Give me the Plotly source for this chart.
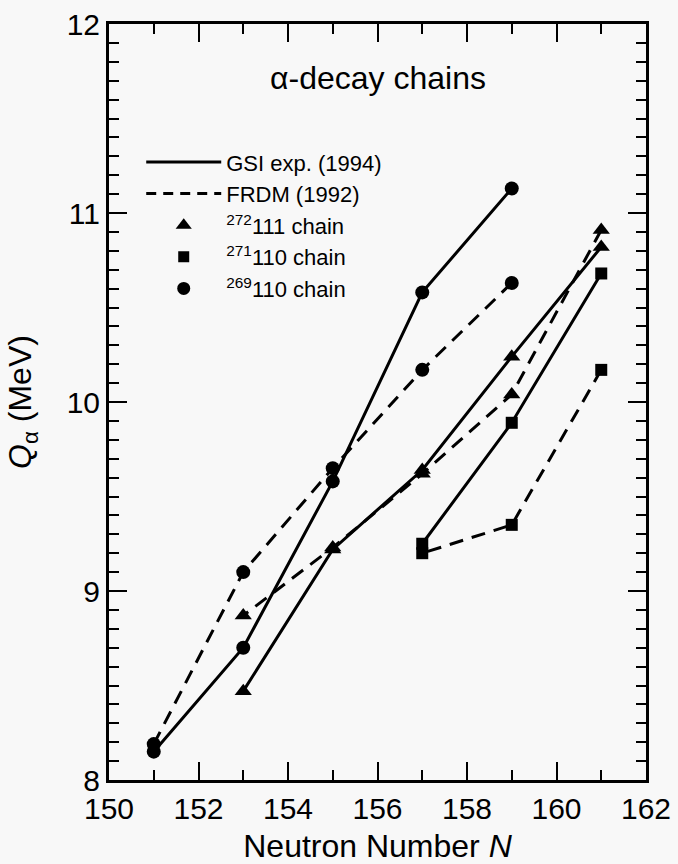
import plotly.graph_objects as go

# ---- data ----
n_272 = [161, 159, 157, 155, 153]
gsi_272 = [10.82, 10.24, 9.64, 9.22, 8.47]
frdm_272 = [10.91, 10.04, 9.62, 9.23, 8.87]

n_271 = [161, 159, 157]
gsi_271 = [10.68, 9.89, 9.25]
frdm_271 = [10.17, 9.35, 9.20]

n_269 = [159, 157, 155, 153, 151]
gsi_269 = [11.13, 10.58, 9.58, 8.70, 8.15]
frdm_269 = [10.63, 10.17, 9.65, 9.10, 8.19]

x_ticks = [150, 152, 154, 156, 158, 160, 162]
y_ticks = [8, 9, 10, 11, 12]

FONT = "Liberation Sans, Arial, Helvetica, sans-serif"
BG = "#f8f8f8"
DASH = "14px,9px"
LW = 3

fig = go.Figure()

chains = [
    (n_272, gsi_272, frdm_272, "triangle-up", 15),
    (n_271, gsi_271, frdm_271, "square", 12),
    (n_269, gsi_269, frdm_269, "circle", 14),
]
for n, g, f, sym, sz in chains:
    fig.add_trace(go.Scatter(x=n, y=g, mode="lines+markers", showlegend=False,
                             line=dict(color="black", width=LW),
                             marker=dict(symbol=sym, size=sz, color="black")))
    fig.add_trace(go.Scatter(x=n, y=f, mode="lines+markers", showlegend=False,
                             line=dict(color="black", width=LW, dash=DASH),
                             marker=dict(symbol=sym, size=sz, color="black")))

# legend entries
fig.add_trace(go.Scatter(x=[None], y=[None], mode="lines", name="GSI exp. (1994)",
                         line=dict(color="black", width=LW)))
fig.add_trace(go.Scatter(x=[None], y=[None], mode="lines", name="FRDM (1992)",
                         line=dict(color="black", width=LW, dash="10px,7px")))
fig.add_trace(go.Scatter(x=[None], y=[None], mode="markers", name="<sup>272</sup>111 chain",
                         marker=dict(symbol="triangle-up", size=14, color="black")))
fig.add_trace(go.Scatter(x=[None], y=[None], mode="markers", name="<sup>271</sup>110 chain",
                         marker=dict(symbol="square", size=11, color="black")))
fig.add_trace(go.Scatter(x=[None], y=[None], mode="markers", name="<sup>269</sup>110 chain",
                         marker=dict(symbol="circle", size=13, color="black")))

axis_common = dict(
    showgrid=False, zeroline=False, showline=True, linecolor="black", linewidth=3,
    mirror="allticks", ticks="inside", ticklen=18, tickwidth=2, tickcolor="black",
    tickfont=dict(family=FONT, size=30, color="black"), automargin=False,
)

fig.update_xaxes(range=[150, 162], tickvals=x_ticks, ticktext=[str(v) for v in x_ticks],
                 minor=dict(dtick=1, tick0=150, ticks="inside", ticklen=10, tickwidth=2, tickcolor="black"),
                 title=dict(text="Neutron Number <i>N</i>", font=dict(family=FONT, size=32, color="black"),
                            standoff=12),
                 **axis_common)
fig.update_yaxes(range=[8, 12], tickvals=y_ticks, ticktext=[str(v) for v in y_ticks],
                 minor=dict(dtick=0.1, tick0=8, ticks="inside", ticklen=10, tickwidth=2, tickcolor="black"),
                 title=dict(text="<i>Q</i><sub>α</sub> (MeV)", font=dict(family=FONT, size=32, color="black"),
                            standoff=26),
                 **axis_common)

fig.add_annotation(text="α-decay chains", xref="paper", yref="paper", x=0.5, y=0.928,
                   xanchor="center", yanchor="middle", showarrow=False,
                   font=dict(family=FONT, size=32, color="black"))

fig.update_layout(
    width=678, height=864,
    margin=dict(l=109, r=32, t=24, b=84),
    paper_bgcolor=BG, plot_bgcolor=BG,
    font=dict(family=FONT, color="black"),
    legend=dict(x=0.06, y=0.845, xanchor="left", yanchor="top", bgcolor="rgba(0,0,0,0)",
                font=dict(family=FONT, size=22, color="black"), itemwidth=75, tracegroupgap=0),
)

fig.write_html("out.html")
